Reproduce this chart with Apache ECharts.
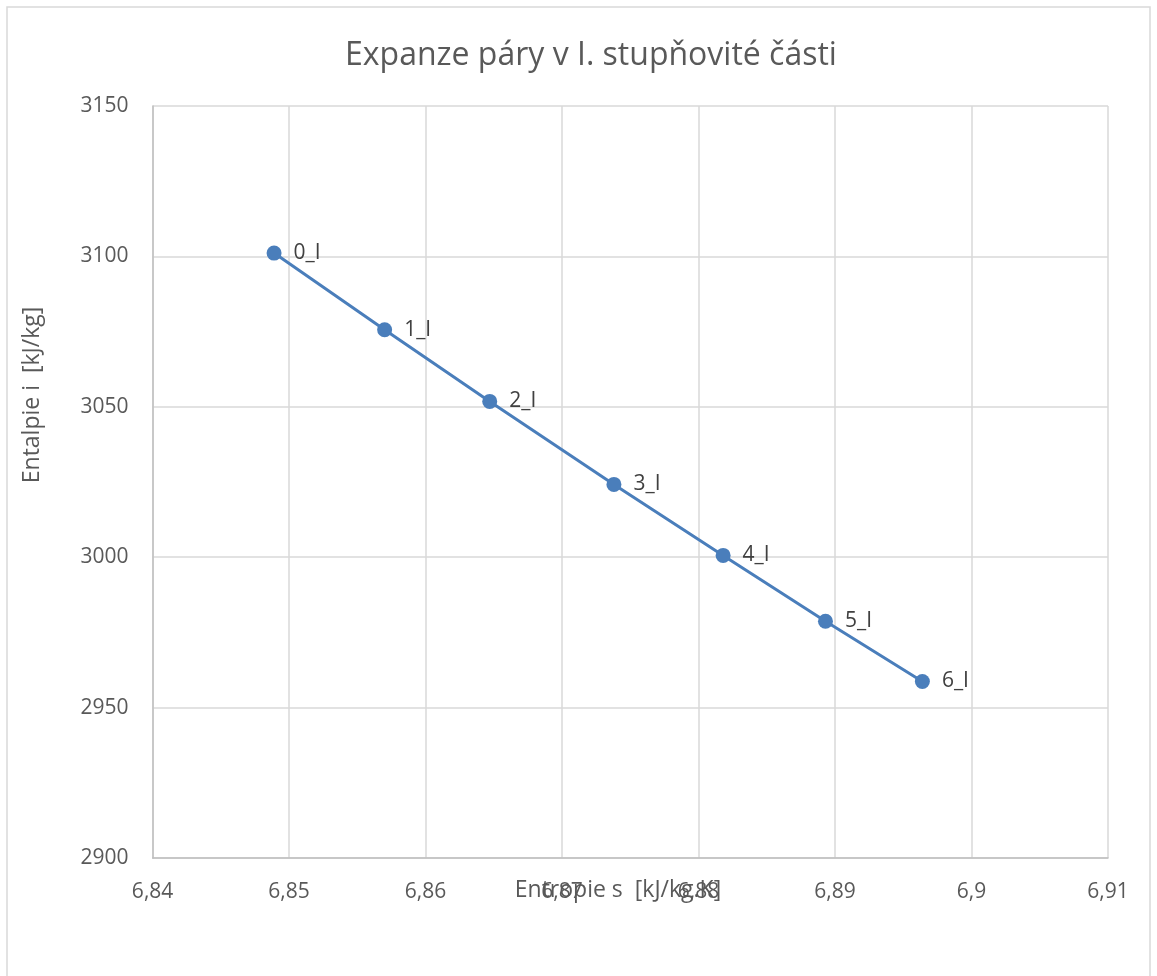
<!DOCTYPE html>
<html><head><meta charset="utf-8">
<script src="https://cdn.jsdelivr.net/npm/echarts@6/dist/echarts.min.js"></script>
<style>html,body{margin:0;padding:0;background:#fff}#c{width:1157px;height:976px}</style>
</head><body><div id="c"></div>
<script>
const pointLabels = ['0_I','1_I','2_I','3_I','4_I','5_I','6_I'];
const entropy = [6.8489, 6.8570, 6.8647, 6.8738, 6.8818, 6.8893, 6.8964];
const enthalpy = [3101.1, 3075.6, 3051.8, 3024.2, 3000.6, 2978.7, 2958.7];
const titleText = 'Expanze páry v I. stupňovité části';
const xName = 'Entropie s  [kJ/kg.K]';
const yName = 'Entalpie i  [kJ/kg]';

const font = '"Open Sans", "Liberation Sans", sans-serif';
const data = entropy.map((s, i) => ({value: [s, enthalpy[i]], name: pointLabels[i]}));
const chart = echarts.init(document.getElementById('c'));
chart.setOption({
  animation: false,
  backgroundColor: '#fff',
  title: {text: titleText, left: 586, top: 35, textAlign: 'center',
    textStyle: {fontFamily: font, fontSize: 32, fontWeight: 'normal', color: '#595959'}},
  grid: {left: 152.6, top: 106, right: 49, bottom: 118},
  xAxis: {type: 'value', min: 6.84, max: 6.91, interval: 0.01,
    axisLine: {show: true, lineStyle: {color: '#bfbfbf', width: 1.5}}, axisTick: {show: false},
    splitLine: {show: true, lineStyle: {color: '#d9d9d9', width: 1.5}},
    axisLabel: {margin: 24, fontFamily: font, fontSize: 21, color: '#595959',
      formatter: v => String(Math.round(v * 100) / 100).replace('.', ',')}},
  yAxis: {type: 'value', min: 2900, max: 3150, interval: 50,
    axisLine: {show: true, lineStyle: {color: '#bfbfbf', width: 1.5}}, axisTick: {show: false},
    splitLine: {show: true, lineStyle: {color: '#d9d9d9', width: 1.5}},
    axisLabel: {margin: 24, fontFamily: font, fontSize: 21, color: '#595959',
      formatter: v => String(v)}},
  graphic: [
    {type: 'rect', shape: {x: 7, y: 7, width: 1143, height: 1000}, style: {fill: 'none', stroke: '#d9d9d9', lineWidth: 1.5}, z: -1},
    {type: 'text', x: 618, y: 890, style: {text: xName, fontFamily: font, fontSize: 23, fill: '#595959', textAlign: 'center', textVerticalAlign: 'middle'}},
    {type: 'text', x: 32, y: 395, rotation: Math.PI / 2, style: {text: yName, fontFamily: font, fontSize: 23, fill: '#595959', textAlign: 'center', textVerticalAlign: 'middle'}}
  ],
  series: [{
    type: 'line', data: data, symbol: 'circle', symbolSize: 15,
    lineStyle: {color: '#4a7ebb', width: 3}, itemStyle: {color: '#4a7ebb'},
    label: {show: true, position: 'right', distance: 12, formatter: p => p.name,
      fontFamily: font, fontSize: 21, color: '#404040'}
  }]
});
</script></body></html>
